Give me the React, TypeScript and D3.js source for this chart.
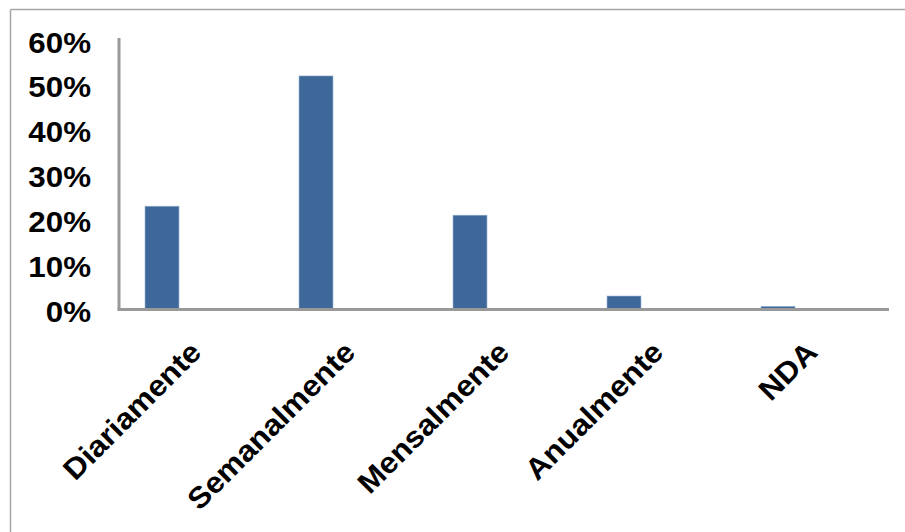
import React from "react";
import * as d3 from "d3";

const categories = ["Diariamente", "Semanalmente", "Mensalmente", "Anualmente", "NDA"];
const values = [0.23, 0.52, 0.21, 0.03, 0.007];
const yTicks = [0, 0.1, 0.2, 0.3, 0.4, 0.5, 0.6];
const seriesSlots = ["s1", "s2", "s3"];

const W = 905;
const H = 532;
const FONT = "'Liberation Sans', Arial, sans-serif";

export default function App() {
  const x = d3.scaleBand<string>().domain(categories).range([119, 889]).paddingInner(0).paddingOuter(0);
  const slot = d3.scaleBand<string>().domain(seriesSlots).range([0, x.bandwidth()]).paddingInner(0).paddingOuter(0.765);
  const y = d3.scaleLinear().domain([0, 0.6]).range([309.5, 40]);
  const fmt = d3.format(".0%");

  return (
    <svg width={W} height={H} style={{ position: "absolute", left: 0, top: 0, background: "#fff" }}>
      <rect x={0} y={0} width={W} height={H} fill="#fff" />
      {/* outer chart border */}
      <line x1={10.5} y1={9.5} x2={W} y2={9.5} stroke="#a6a6a6" strokeWidth={1.5} />
      <line x1={10.5} y1={9.5} x2={10.5} y2={H} stroke="#a6a6a6" strokeWidth={1.5} />

      {/* bars */}
      {categories.map((c, i) => (
        <rect
          key={c}
          x={(x(c) as number) + (slot("s1") as number)}
          y={y(values[i])}
          width={slot.bandwidth()}
          height={y(0) - y(values[i])}
          fill="#3E6899"
          stroke="#9db5d3"
          strokeWidth={0.6}
        />
      ))}

      {/* axes */}
      <line x1={119} y1={38} x2={119} y2={y(0)} stroke="#999" strokeWidth={3} />
      <line x1={117.5} y1={y(0)} x2={889} y2={y(0)} stroke="#999" strokeWidth={3} />

      {/* y tick labels */}
      {yTicks.map((t) => (
        <text
          key={t}
          transform={`translate(91,${y(t) + 12.5}) scale(1.08,1)`}
          textAnchor="end"
          fontFamily={FONT}
          fontWeight="bold"
          fontSize={29}
          fill="#000"
        >
          {fmt(t)}
        </text>
      ))}

      {/* x tick labels */}
      {categories.map((c) => {
        const cx = (x(c) as number) + x.bandwidth() / 2 + 7;
        const cy = 354;
        return (
          <text
            key={c}
            transform={`translate(${cx},${cy}) rotate(-45) scale(1.07,1)`}
            textAnchor="end"
            fontFamily={FONT}
            fontWeight="bold"
            fontSize={29.5}
            fill="#000"
          >
            {c}
          </text>
        );
      })}
    </svg>
  );
}
